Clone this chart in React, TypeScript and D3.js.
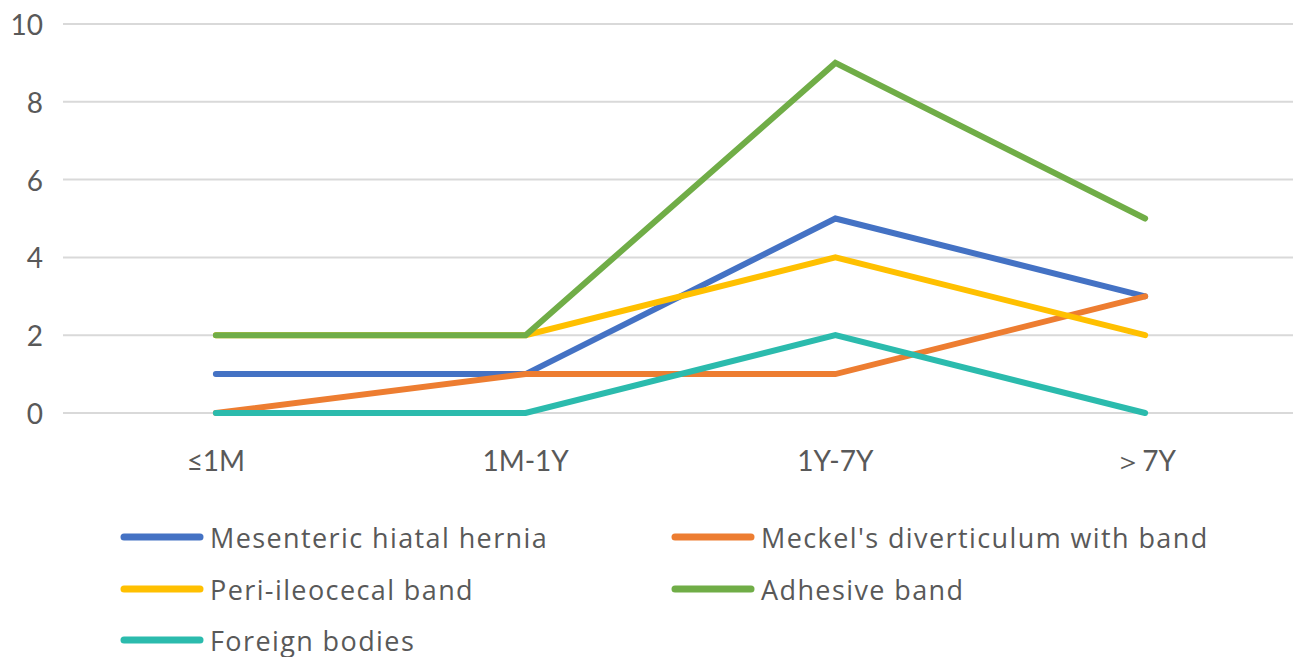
import React from "react";
import * as d3 from "d3";

const categories = ["≤1M", "1M-1Y", "1Y-7Y", "＞7Y"];
const seriesNames = [
  "Mesenteric hiatal hernia",
  "Meckel's diverticulum with band",
  "Peri-ileocecal band",
  "Adhesive band",
  "Foreign bodies",
];
const mesenteric = [1, 1, 5, 3];
const meckel = [0, 1, 1, 3];
const periIleocecal = [2, 2, 4, 2];
const adhesive = [2, 2, 9, 5];
const foreign = [0, 0, 2, 0];
const yTicks = [0, 2, 4, 6, 8, 10];
const colors = ["#4472C4", "#ED7D31", "#FFC000", "#70AD47", "#2BBBAD"];

const W = 1293;
const H = 657;
const FONT = "Lato, sans-serif";
const LEGEND_FONT = "'Open Sans', Lato, sans-serif";
const TEXT = "#595959";

export default function App() {
  const series = [mesenteric, meckel, periIleocecal, adhesive, foreign];
  const x = d3.scaleBand<string>().domain(categories).range([61, 1300]);
  const y = d3.scaleLinear().domain([0, 10]).range([413, 24]);
  const line = d3
    .line<number>()
    .x((_, i) => (x(categories[i]) as number) + x.bandwidth() / 2)
    .y((d) => y(d));

  const legendPos = [
    { x: 120, y: 537 },
    { x: 671, y: 537 },
    { x: 120, y: 589 },
    { x: 671, y: 589 },
    { x: 120, y: 640 },
  ];

  return (
    <svg
      width={W}
      height={H}
      style={{ position: "absolute", left: 0, top: 0, background: "#fff" }}
    >
      {yTicks.map((t) => (
        <g key={t}>
          <line x1={63} x2={W} y1={y(t)} y2={y(t)} stroke="#D9D9D9" strokeWidth={2} />
          <text
            x={43}
            y={y(t)}
            textAnchor="end"
            dominantBaseline="central"
            fontFamily={FONT}
            fontSize={28}
            fill={TEXT}
          >
            {t}
          </text>
        </g>
      ))}
      {categories.map((c) => (
        <text
          key={c}
          x={(x(c) as number) + x.bandwidth() / 2}
          y={460}
          textAnchor="middle"
          dominantBaseline="central"
          fontFamily={FONT}
          fontSize={28}
          fill={TEXT}
        >
          {c}
        </text>
      ))}
      {series.map((s, i) => (
        <path
          key={seriesNames[i]}
          d={line(s) || ""}
          fill="none"
          stroke={colors[i]}
          strokeWidth={6}
          strokeLinecap="round"
          strokeLinejoin="miter"
        />
      ))}
      {seriesNames.map((n, i) => (
        <g key={n} transform={`translate(${legendPos[i].x},${legendPos[i].y})`}>
          <line x1={4} x2={80} y1={0} y2={0} stroke={colors[i]} strokeWidth={7} strokeLinecap="round" />
          <text
            x={90}
            y={0}
            dominantBaseline="central"
            fontFamily={LEGEND_FONT}
            fontSize={27}
            letterSpacing={1.4}
            fill={TEXT}
          >
            {n}
          </text>
        </g>
      ))}
    </svg>
  );
}
